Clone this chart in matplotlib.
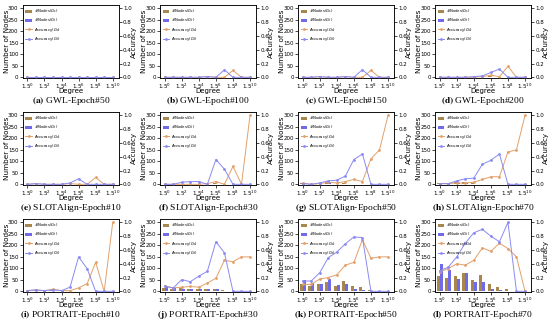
import numpy as np
import matplotlib.pyplot as plt

degree_pos = np.arange(11)
tick_pos = [0, 2, 4, 6, 8, 10]
tick_labels = [r'$1.5^{%d}$' % p for p in tick_pos]

captions = ['(a)', '(b)', '(c)', '(d)', '(e)', '(f)', '(g)', '(h)', '(i)', '(j)', '(k)', '(l)']
titles = ['GWL-Epoch#50', 'GWL-Epoch#100', 'GWL-Epoch#150', 'GWL-Epoch#200',
          'SLOTAlign-Epoch#10', 'SLOTAlign-Epoch#30', 'SLOTAlign-Epoch#50', 'SLOTAlign-Epoch#70',
          'PORTRAIT-Epoch#10', 'PORTRAIT-Epoch#30', 'PORTRAIT-Epoch#50', 'PORTRAIT-Epoch#70']

# number of nodes per degree bucket, source graph
nodes_s = [
    [0, 0, 0, 0, 0, 0, 0, 0, 0, 0, 0],
    [0, 0, 0, 0, 0, 3, 0, 0, 0, 0, 0],
    [0, 0, 2, 0, 0, 3, 0, 0, 0, 0, 0],
    [0, 0, 0, 2, 3, 0, 6, 0, 0, 0, 0],
    [0, 2, 0, 3, 0, 3, 0, 0, 0, 0, 0],
    [0, 0, 2, 0, 0, 0, 5, 0, 0, 0, 0],
    [5, 0, 2, 8, 0, 5, 0, 0, 0, 0, 0],
    [6, 4, 8, 10, 5, 2, 0, 0, 0, 0, 0],
    [3, 4, 3, 5, 3, 2, 0, 0, 0, 0, 0],
    [15, 12, 15, 10, 10, 10, 8, 5, 0, 0, 0],
    [30, 22, 30, 40, 25, 43, 22, 18, 5, 0, 0],
    [68, 58, 65, 78, 48, 72, 33, 18, 10, 0, 0],
]
# number of nodes per degree bucket, target graph
nodes_t = [
    [0, 0, 0, 0, 0, 0, 0, 0, 0, 0, 0],
    [0, 0, 0, 0, 0, 2, 0, 0, 0, 0, 0],
    [0, 0, 1, 0, 0, 2, 0, 0, 0, 0, 0],
    [0, 0, 0, 1, 2, 0, 3, 0, 0, 0, 0],
    [0, 1, 0, 2, 0, 2, 0, 0, 0, 0, 0],
    [0, 0, 1, 0, 0, 0, 3, 0, 0, 0, 0],
    [3, 0, 1, 5, 0, 3, 0, 0, 0, 0, 0],
    [4, 2, 5, 7, 3, 1, 0, 0, 0, 0, 0],
    [2, 3, 2, 3, 2, 1, 0, 0, 0, 0, 0],
    [20, 15, 12, 12, 8, 12, 8, 3, 0, 0, 0],
    [50, 35, 30, 52, 28, 32, 10, 5, 0, 0, 0],
    [120, 92, 55, 80, 42, 42, 10, 5, 0, 0, 0],
]
# accuracy per degree bucket, source graph
acc_s = [
    [0, 0, 0, 0, 0, 0, 0, 0, 0, 0, 0],
    [0, 0, 0, 0, 0, 0.01, 0, 0, 0.1, 0, 0],
    [0, 0, 0.01, 0, 0, 0.01, 0, 0, 0.1, 0, 0],
    [0, 0, 0, 0, 0, 0.01, 0.03, 0.01, 0.16, 0, 0],
    [0, 0.01, 0, 0, 0, 0.01, 0, 0, 0.1, 0, 0],
    [0, 0, 0, 0, 0, 0.01, 0.04, 0, 0.26, 0, 1.0],
    [0.02, 0, 0.01, 0.03, 0.02, 0.04, 0.07, 0.04, 0.37, 0.5, 1.0],
    [0.01, 0.01, 0.02, 0.02, 0.03, 0.07, 0.11, 0.11, 0.47, 0.5, 1.0],
    [0.01, 0.02, 0.01, 0.03, 0.01, 0.01, 0.05, 0.11, 0.42, 0, 1.0],
    [0.08, 0.05, 0.06, 0.07, 0.06, 0.12, 0.19, 0.45, 0.43, 0.5, 0.5],
    [0.1, 0.1, 0.18, 0.2, 0.24, 0.38, 0.42, 0.75, 0.48, 0.5, 0.5],
    [0.28, 0.33, 0.4, 0.38, 0.45, 0.63, 0.58, 0.7, 0.62, 0.5, 0],
]
# accuracy per degree bucket, target graph
acc_t = [
    [0, 0, 0, 0, 0, 0, 0, 0, 0, 0, 0],
    [0, 0, 0, 0, 0, 0.01, 0, 0.11, 0, 0, 0],
    [0, 0, 0.01, 0, 0, 0.01, 0, 0.11, 0, 0, 0],
    [0, 0, 0, 0, 0.01, 0.02, 0.07, 0.12, 0, 0, 0],
    [0, 0.01, 0, 0, 0, 0.02, 0.08, 0, 0, 0, 0],
    [0, 0, 0.03, 0.04, 0.04, 0, 0.36, 0.22, 0, 0, 0],
    [0.01, 0, 0.02, 0.05, 0.06, 0.12, 0.36, 0.44, 0, 0, 0],
    [0.01, 0.01, 0.05, 0.08, 0.09, 0.29, 0.35, 0.44, 0, 0, 0],
    [0.01, 0.02, 0.01, 0.02, 0.01, 0.06, 0.5, 0.33, 0, 0, 0],
    [0.07, 0.05, 0.17, 0.14, 0.22, 0.29, 0.72, 0.56, 0, 0, 0],
    [0.15, 0.15, 0.27, 0.49, 0.57, 0.69, 0.79, 0.78, 0, 0, 0],
    [0.3, 0.35, 0.5, 0.7, 0.85, 0.9, 0.8, 0.72, 1.0, 0, 0],
]

c_bar_s = '#a8874e'
c_bar_t = '#6f6ae8'
c_line_s = '#e3a06a'
c_line_t = '#8a8af2'

fig = plt.figure(figsize=(5.5, 3.24), dpi=100)

col_left = [22.7, 160, 298, 435]
row_bottom = [78, 185, 292]
w_px, h_px = 96, 73
bw = 0.36

for i in range(12):
    r, c = divmod(i, 4)
    ax = fig.add_axes([col_left[c] / 550, 1 - row_bottom[r] / 324, w_px / 550, h_px / 324])
    b1 = ax.bar(degree_pos - bw / 2, nodes_s[i], bw, color=c_bar_s)
    b2 = ax.bar(degree_pos + bw / 2, nodes_t[i], bw, color=c_bar_t)
    ax.set_ylim(-3, 315)
    ax.set_yticks(range(0, 301, 50))
    ax.set_xlim(-0.55, 10.7)
    ax.set_xticks(tick_pos)
    ax.set_xticklabels(tick_labels)
    ax.tick_params(labelsize=4, length=2, width=0.5, pad=1)
    ax.tick_params(axis='x', pad=0.5)
    ax.set_xlabel('Degree', fontsize=5)
    ax.xaxis.set_label_coords(0.5, -0.14)
    ax.set_ylabel('Number of Nodes', fontsize=5.2)
    ax.yaxis.set_label_coords(-0.135, 0.5)

    ax2 = ax.twinx()
    l1, = ax2.plot(degree_pos, acc_s[i], color=c_line_s, lw=0.7, marker='.', ms=2)
    l2, = ax2.plot(degree_pos, acc_t[i], color=c_line_t, lw=0.7, marker='.', ms=2)
    ax2.set_ylim(-0.01, 1.05)
    ax2.set_yticks(np.arange(0, 1.01, 0.2))
    ax2.tick_params(labelsize=4, length=2, width=0.5, pad=1)
    ax2.set_ylabel('Accuracy', fontsize=5)
    ax2.yaxis.set_label_coords(1.125, 0.5)
    for a in (ax, ax2):
        for s in a.spines.values():
            s.set_linewidth(0.5)

    ax2.legend([b1, b2, l1, l2],
               [r'#Nodes($G_s$)', r'#Nodes($G_t$)', r'Accuracy($G_s$)', r'Accuracy($G_t$)'],
               loc='upper left', fontsize=2.8, frameon=False, handlelength=1.6,
               labelspacing=0.35, borderaxespad=0.3, handletextpad=0.5)

    cx = (col_left[c] + w_px / 2) / 550
    cy = 1 - (row_bottom[r] + 23) / 324
    fig.text(cx, cy, r'$\mathbf{%s}$ %s' % (captions[i], titles[i]), ha='center', va='center',
             fontsize=6.8, family='Liberation Serif', math_fontfamily='stix')

fig.savefig('out.png', dpi=100)
